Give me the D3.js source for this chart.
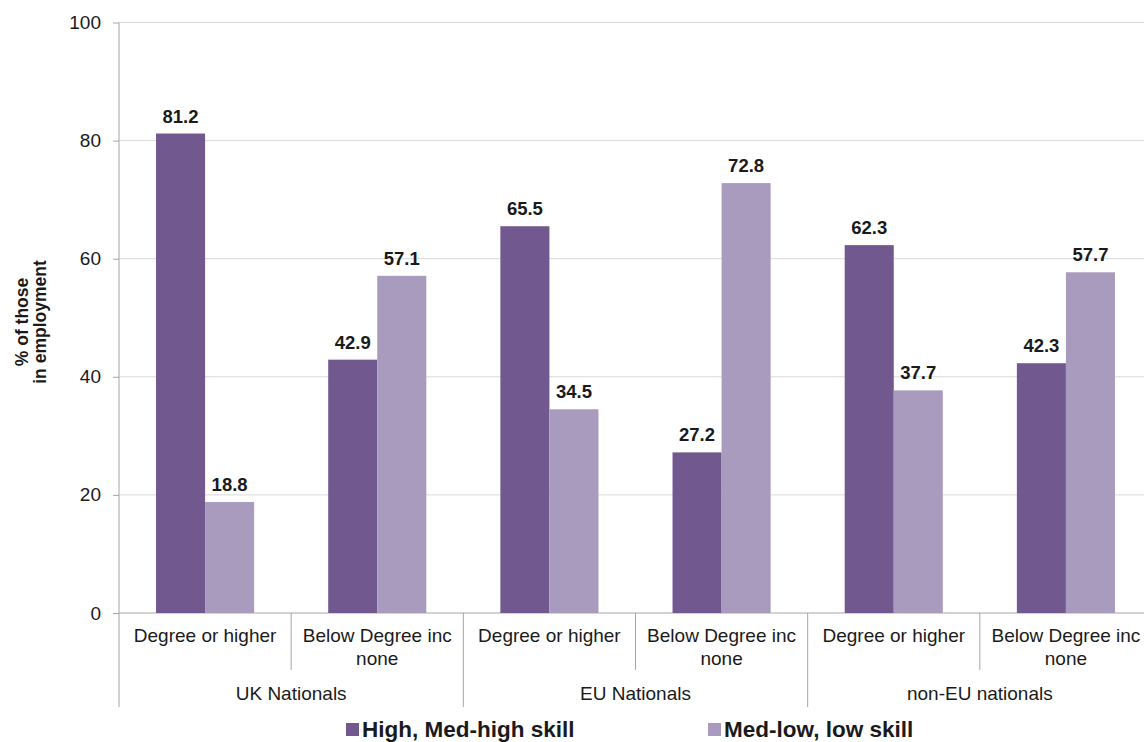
<!DOCTYPE html>
<html>
<head>
<meta charset="utf-8">
<script src="https://cdn.jsdelivr.net/npm/d3@7"></script>
<style>
  body { margin: 0; background: #fff; }
  svg { display: block; font-family: "Liberation Sans", Arial, sans-serif; }
</style>
</head>
<body>
<svg id="chart" width="1144" height="742"></svg>
<script>
// Nationality groups and qualification sub-categories
const groups = ["UK Nationals", "EU Nationals", "non-EU nationals"];
const qualifications = ["Degree or higher", "Below Degree inc none"];
const seriesNames = ["High, Med-high skill", "Med-low, low skill"];
// Values per bar, in group/qualification order
const highSkill = [81.2, 42.9, 65.5, 27.2, 62.3, 42.3];
const lowSkill  = [18.8, 57.1, 34.5, 72.8, 37.7, 57.7];
const yTicks = [0, 20, 40, 60, 80, 100];
const colors = ["#71588f", "#a99bbd"];

const svg = d3.select("#chart");
const plotLeft = 119, plotRight = 1152, plotTop = 22.5, plotBottom = 613;
const axisColor = "#a6a6a6", textColor = "#1a1a1a";

const cats = [];
groups.forEach((g, gi) => qualifications.forEach((q, qi) => {
  const i = gi * qualifications.length + qi;
  cats.push({ id: i, group: g, qual: q, values: [highSkill[i], lowSkill[i]] });
}));

const x0 = d3.scaleBand().domain(cats.map(d => d.id)).range([plotLeft, plotRight]).padding(0);
const x1 = d3.scaleBand().domain([0, 1]).range([0, x0.bandwidth()]).paddingInner(0).paddingOuter(0.755);
const y = d3.scaleLinear().domain([0, 100]).range([plotBottom, plotTop]);

// gridlines
svg.append("g").selectAll("line").data(yTicks.filter(t => t > 0)).join("line")
  .attr("x1", plotLeft).attr("x2", 1144)
  .attr("y1", d => y(d)).attr("y2", d => y(d))
  .attr("stroke", "#d9d9d9").attr("stroke-width", 1);

// y axis
const yAxis = svg.append("g").attr("transform", `translate(${plotLeft},0)`)
  .call(d3.axisLeft(y).tickValues(yTicks).tickSize(6).tickPadding(12));
yAxis.select(".domain").remove();
yAxis.selectAll(".tick line").attr("stroke", axisColor);
yAxis.selectAll(".tick text").attr("font-size", 19).attr("fill", textColor)
  .attr("font-family", "Liberation Sans, Arial, sans-serif");
svg.append("line").attr("x1", plotLeft).attr("x2", plotLeft).attr("y1", plotTop).attr("y2", 707)
  .attr("stroke", axisColor);

// baseline
svg.append("line").attr("x1", plotLeft).attr("x2", 1144).attr("y1", plotBottom).attr("y2", plotBottom)
  .attr("stroke", axisColor);

// bars with value labels
const gBars = svg.append("g");
cats.forEach(c => {
  c.values.forEach((v, si) => {
    const bx = x0(c.id) + x1(si);
    gBars.append("rect")
      .attr("x", bx).attr("width", x1.bandwidth())
      .attr("y", y(v)).attr("height", y(0) - y(v))
      .attr("fill", colors[si]);
    gBars.append("text")
      .attr("x", bx + x1.bandwidth() / 2).attr("y", y(v) - 11)
      .attr("text-anchor", "middle").attr("font-size", 18.5).attr("font-weight", "bold")
      .attr("fill", textColor).text(v.toFixed(1));
  });
});

// category separators
cats.forEach((c, i) => {
  if (i === 0) return;
  const xs = x0(c.id);
  const outer = i % qualifications.length === 0;
  svg.append("line").attr("x1", xs).attr("x2", xs)
    .attr("y1", plotBottom).attr("y2", outer ? 707 : 670)
    .attr("stroke", axisColor);
});

// qualification labels (wrapped)
cats.forEach(c => {
  const cx = x0(c.id) + x0.bandwidth() / 2;
  const lines = c.qual === "Below Degree inc none" ? ["Below Degree inc", "none"] : [c.qual];
  lines.forEach((ln, li) => {
    svg.append("text").attr("x", cx).attr("y", 642 + li * 23)
      .attr("text-anchor", "middle").attr("font-size", 19).attr("fill", textColor).text(ln);
  });
});

// group labels
groups.forEach((g, gi) => {
  const a = x0(gi * 2), b = x0(gi * 2 + 1) + x0.bandwidth();
  svg.append("text").attr("x", (a + b) / 2).attr("y", 700)
    .attr("text-anchor", "middle").attr("font-size", 19).attr("fill", textColor).text(g);
});

// y axis title
const yt = svg.append("text").attr("transform", "translate(28,322) rotate(-90)")
  .attr("text-anchor", "middle").attr("font-size", 17.5).attr("font-weight", "bold").attr("fill", textColor);
yt.append("tspan").attr("x", 0).attr("dy", 0).text("% of those");
yt.append("tspan").attr("x", 0).attr("dy", 18).text("in employment");

// legend
const legendX = [346, 708];
seriesNames.forEach((s, i) => {
  svg.append("rect").attr("x", legendX[i]).attr("y", 723).attr("width", 13).attr("height", 13)
    .attr("fill", colors[i]);
  svg.append("text").attr("x", legendX[i] + 16).attr("y", 737)
    .attr("font-size", 22.5).attr("font-weight", "bold").attr("fill", textColor).text(s);
});
</script>
</body>
</html>
